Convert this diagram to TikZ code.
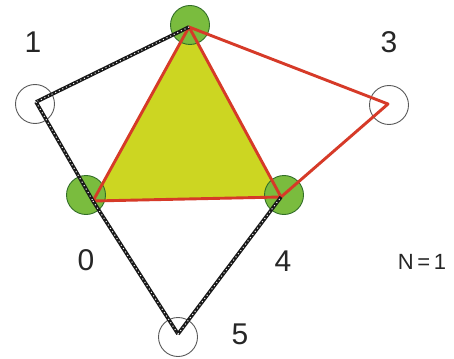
\documentclass[tikz,border=0pt]{standalone}
\usepackage{fontspec}
\setmainfont{Liberation Sans}
\begin{document}
\begin{tikzpicture}[x=1pt,y=-1pt,
  vtx/.style={circle,minimum size=39pt,inner sep=0pt,draw=black!65,line width=0.9pt},
  gvtx/.style={vtx,fill={rgb,255:red,122;green,188;blue,62},draw={rgb,255:red,50;green,110;blue,40}},
  lbl/.style={font=\fontsize{30}{30}\selectfont,text=black!85},
  redl/.style={draw={rgb,255:red,214;green,58;blue,40},line width=2.9pt,line join=round},
  rope/.style={draw=black!90,line width=3.6pt},
  ropew/.style={draw=white,line width=1pt,dash pattern=on 1pt off 3pt}]
\useasboundingbox (0,0) rectangle (454,358);
\fill[white] (0,0) rectangle (454,358);
\coordinate (p2) at (189,27);
\coordinate (p0) at (93,201);
\coordinate (p4) at (281,197);
\coordinate (p1) at (36,102);
\coordinate (p3) at (388,104);
\coordinate (p5) at (178,334);
% triangle fill
\fill[fill={rgb,255:red,204;green,214;blue,34}] (p2) -- (p0) -- (p4) -- cycle;
% vertex circles
\node[gvtx] (c2) at (190,25) {};
\node[gvtx] (c0) at (86,195) {};
\node[gvtx] (c4) at (284,195) {};
\node[vtx] (c1) at (35,104) {};
\node[vtx] (c3) at (389,105) {};
\node[vtx] (c5) at (178,337) {};
% red outline
\draw[redl] (p2) -- (p0) -- (p4) -- cycle;
\draw[redl] (p2) -- (p3) -- (p4);
% rope lines
\foreach \a/\b in {p2/p1,p1/p0,p0/p5,p5/p4}{
  \draw[rope] (\a) -- (\b);
  \draw[ropew] (\a) -- (\b);
}
% labels
\node[lbl] (l1) at (33,42) {1};
\node[lbl] (l3) at (389,42) {3};
\node[lbl] (l0) at (86,260) {0};
\node[lbl] (l4) at (283,261) {4};
\node[lbl] (l5) at (240,334) {5};
\node[font=\fontsize{22}{22}\selectfont,text=black!85] (ln) at (422,262) {N\,=\,1};
\end{tikzpicture}
\end{document}
